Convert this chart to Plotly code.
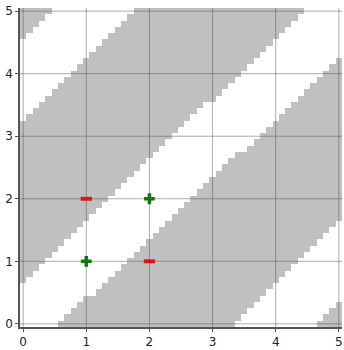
import numpy as np
import plotly.graph_objects as go

# Cell grid: 51 x 51 cells, centres every 0.1 from 0 to 5
grid_x = np.round(np.linspace(0.0, 5.0, 51), 1)
grid_y = np.round(np.linspace(0.0, 5.0, 51), 1)

# Gray (negative) region per row, listed from y = 0.0 up to y = 5.0,
# as inclusive spans of cell-centre x values
gray_spans = [
    [(0.6, 3.3), (4.7, 5.0)],   # y = 0.0
    [(0.7, 3.4), (4.8, 5.0)],
    [(0.8, 3.5), (4.9, 5.0)],
    [(0.9, 3.6), (5.0, 5.0)],
    [(1.0, 3.7)],
    [(1.2, 3.8)],
    [(1.3, 3.9)],
    [(0.0, 0.0), (1.4, 4.0)],
    [(0.0, 0.1), (1.5, 4.1)],
    [(0.0, 0.2), (1.6, 4.2)],
    [(0.0, 0.3), (1.7, 4.3)],   # y = 1.0
    [(0.0, 0.4), (1.8, 4.4)],
    [(0.0, 0.5), (1.9, 4.5)],
    [(0.0, 0.6), (2.0, 4.6)],
    [(0.0, 0.7), (2.1, 4.7)],
    [(0.0, 0.8), (2.2, 4.8)],
    [(0.0, 0.9), (2.3, 4.9)],
    [(0.0, 1.0), (2.4, 5.0)],
    [(0.0, 1.1), (2.5, 5.0)],
    [(0.0, 1.2), (2.6, 5.0)],
    [(0.0, 1.3), (2.7, 5.0)],   # y = 2.0
    [(0.0, 1.4), (2.8, 5.0)],
    [(0.0, 1.5), (2.9, 5.0)],
    [(0.0, 1.6), (3.0, 5.0)],
    [(0.0, 1.7), (3.1, 5.0)],
    [(0.0, 1.8), (3.2, 5.0)],
    [(0.0, 1.9), (3.3, 5.0)],
    [(0.0, 2.0), (3.4, 5.0)],
    [(0.0, 2.1), (3.6, 5.0)],
    [(0.0, 2.2), (3.7, 5.0)],
    [(0.0, 2.3), (3.8, 5.0)],   # y = 3.0
    [(0.0, 2.4), (3.9, 5.0)],
    [(0.0, 2.5), (4.0, 5.0)],
    [(0.1, 2.6), (4.1, 5.0)],
    [(0.2, 2.7), (4.2, 5.0)],
    [(0.3, 2.8), (4.3, 5.0)],
    [(0.4, 3.0), (4.4, 5.0)],
    [(0.5, 3.1), (4.5, 5.0)],
    [(0.6, 3.2), (4.6, 5.0)],
    [(0.7, 3.3), (4.7, 5.0)],
    [(0.8, 3.4), (4.8, 5.0)],   # y = 4.0
    [(0.9, 3.5), (4.9, 5.0)],
    [(1.0, 3.6), (5.0, 5.0)],
    [(1.1, 3.7)],
    [(1.2, 3.8)],
    [(1.3, 3.9)],
    [(0.0, 0.0), (1.4, 4.0)],
    [(0.0, 0.1), (1.5, 4.1)],
    [(0.0, 0.2), (1.6, 4.2)],
    [(0.0, 0.3), (1.7, 4.3)],
    [(0.0, 0.4), (1.8, 4.4)],   # y = 5.0
]

# Training points
pos_x = [1, 2]
pos_y = [1, 2]
neg_x = [1, 2]
neg_y = [2, 1]

tick_vals = [0, 1, 2, 3, 4, 5]
tick_text = ["0", "1", "2", "3", "4", "5"]

# Build the 0/1 region matrix from the spans
z = []
for spans in gray_spans:
    row = []
    for x in grid_x:
        inside = any(a - 1e-9 <= x <= b + 1e-9 for a, b in spans)
        row.append(1 if inside else 0)
    z.append(row)

fig = go.Figure()

fig.add_trace(go.Heatmap(
    x=grid_x, y=grid_y, z=z,
    zmin=0, zmax=1,
    colorscale=[[0, "#ffffff"], [1, "#c0c0c0"]],
    showscale=False, hoverinfo="skip",
))

fig.add_trace(go.Scatter(
    x=pos_x, y=pos_y, mode="markers",
    marker=dict(symbol="cross", size=9, color="#0a800a",
                line=dict(width=0)),
    hoverinfo="skip", showlegend=False,
))

fig.add_trace(go.Scatter(
    x=neg_x, y=neg_y, mode="markers",
    marker=dict(symbol="line-ew", size=8,
                line=dict(width=4, color="#ee1111")),
    hoverinfo="skip", showlegend=False,
))

# Grid lines drawn over the filled cells
grid_color = "rgba(70,70,70,0.45)"
for v in tick_vals:
    fig.add_shape(type="line", xref="x", yref="y domain",
                  x0=v, x1=v, y0=0, y1=1, layer="above",
                  line=dict(color=grid_color, width=1))
    fig.add_shape(type="line", xref="x domain", yref="y",
                  x0=0, x1=1, y0=v, y1=v, layer="above",
                  line=dict(color=grid_color, width=1))

axis_style = dict(
    range=[-0.05, 5.05], autorange=False,
    tickvals=tick_vals, ticktext=tick_text,
    showgrid=False, zeroline=False,
    showline=True, linecolor="#555555", linewidth=1.5, mirror=False,
    ticks="outside", ticklen=3, tickwidth=1, tickcolor="#555555",
    tickfont=dict(family="DejaVu Sans", size=12, color="#222222"),
)

fig.update_layout(
    width=344, height=350,
    margin=dict(l=20, r=1, t=8, b=18),
    paper_bgcolor="white", plot_bgcolor="white",
    xaxis=axis_style,
    yaxis=axis_style,
    showlegend=False,
)

fig.write_html("out.html")
